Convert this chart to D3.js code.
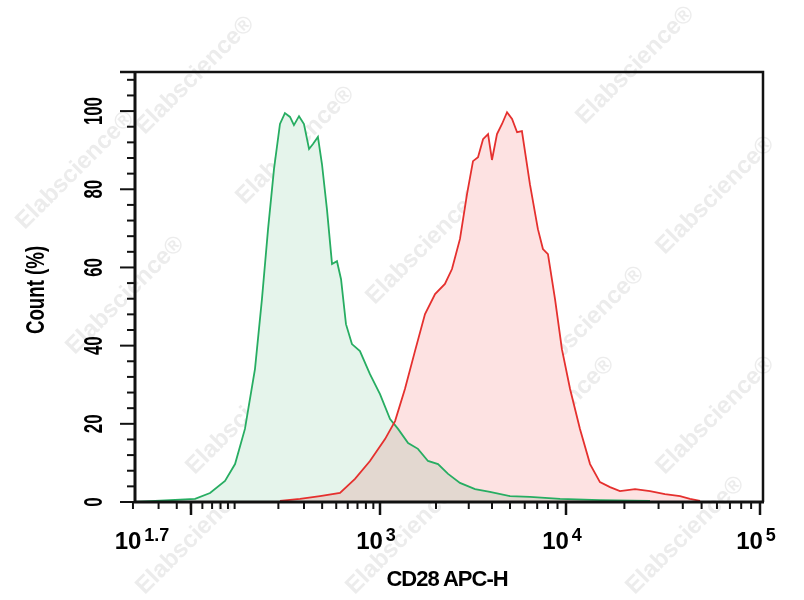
<!DOCTYPE html>
<html>
<head>
<meta charset="utf-8">
<script src="https://cdn.jsdelivr.net/npm/d3@7"></script>
<style>
  body { margin: 0; background: #fff; }
  text { font-family: "Liberation Sans", Arial, sans-serif; font-weight: bold; }
</style>
</head>
<body>
<svg id="chart" width="804" height="600"></svg>
<script>
// x values are log10(fluorescence), y values are Count (%)
const greenX = [1.315, 1.728, 1.831, 1.934, 2.003, 2.071, 2.140, 2.188, 2.230, 2.271, 2.312, 2.346, 2.381, 2.408, 2.443, 2.477, 2.512, 2.539, 2.573, 2.601, 2.635, 2.670, 2.704, 2.732, 2.766, 2.807, 2.862, 2.931, 3.000, 3.054, 3.097, 3.151, 3.204, 3.258, 3.312, 3.366, 3.430, 3.511, 3.591, 3.699, 3.806, 3.968, 4.175, 4.433];
const greenY = [0, 0.8, 2.3, 5.4, 9.7, 18.7, 34.0, 51.9, 69.8, 85.2, 96.7, 99.5, 98.5, 96.4, 98.7, 96.7, 90.3, 91.6, 93.4, 86.4, 74.9, 60.9, 61.6, 57.0, 45.5, 40.4, 38.6, 32.7, 27.6, 21.2, 18.7, 15.1, 13.6, 10.5, 9.7, 7.2, 4.9, 3.3, 2.6, 1.5, 1.3, 0.8, 0.5, 0.3];
const redX = [2.312, 2.450, 2.587, 2.725, 2.828, 2.931, 3.027, 3.081, 3.134, 3.188, 3.242, 3.296, 3.349, 3.387, 3.430, 3.468, 3.500, 3.527, 3.554, 3.581, 3.602, 3.629, 3.656, 3.683, 3.710, 3.737, 3.763, 3.806, 3.849, 3.876, 3.903, 3.941, 3.978, 4.021, 4.072, 4.124, 4.175, 4.227, 4.278, 4.356, 4.433, 4.510, 4.588, 4.639, 4.691];
const redY = [0.3, 0.8, 1.5, 2.3, 5.9, 10.5, 16.1, 20.7, 28.9, 38.6, 48.1, 53.2, 55.8, 59.6, 67.3, 78.8, 87.2, 88.2, 92.8, 94.1, 87.5, 94.1, 96.7, 99.7, 98.0, 94.6, 94.9, 81.3, 69.8, 64.7, 63.4, 51.9, 39.1, 28.9, 18.7, 9.7, 5.1, 3.8, 2.8, 3.3, 2.8, 2.0, 1.5, 0.8, 0.3];
const yTicks = [0, 20, 40, 60, 80, 100];
const xTicks = [1.7, 3, 4, 5];
const xTickSup = ["1.7", "3", "4", "5"];

const svg = d3.select("#chart");
const pLeft = 135, pRight = 763, pTop = 72, pBottom = 502;

// display axis is a biexponential-like transform: piecewise linear in log10
const x = d3.scaleLinear().domain([1.315, 1.7, 3, 4, 5]).range([pLeft, 191, 380, 566, 760]);
const y = d3.scaleLinear().domain([0, 110]).range([pBottom, pTop]);

// watermarks
const marks = [[200, 80], [80, 175], [300, 150], [640, 70], [720, 200], [130, 300], [430, 250], [250, 420], [590, 330], [560, 420], [720, 420], [200, 540], [410, 540], [690, 540]];
svg.append("g").selectAll("text").data(marks).join("text")
  .attr("transform", d => `translate(${d[0]},${d[1]}) rotate(-45)`)
  .attr("text-anchor", "middle")
  .attr("font-size", 24)
  .attr("fill", "#ececec")
  .text("Elabscience®");

const area = d3.area().x(d => x(d[0])).y0(pBottom).y1(d => y(d[1]));
const line = d3.line().x(d => x(d[0])).y(d => y(d[1]));
const green = d3.zip(greenX, greenY);
const red = d3.zip(redX, redY);

const plot = svg.append("g").style("isolation", "isolate");
plot.append("path").datum(green).attr("d", area).attr("fill", "#e5f4eb").style("mix-blend-mode", "multiply");
plot.append("path").datum(red).attr("d", area).attr("fill", "#fde2e2").style("mix-blend-mode", "multiply");
plot.append("path").datum(green).attr("d", line).attr("fill", "none").attr("stroke", "#27ad62").attr("stroke-width", 1.8);
plot.append("path").datum(red).attr("d", line).attr("fill", "none").attr("stroke", "#e5302e").attr("stroke-width", 1.8);

// frame
svg.append("path")
  .attr("d", `M${120},${pTop}H${pRight}V${pBottom}`)
  .attr("fill", "none").attr("stroke", "#111").attr("stroke-width", 2.5);

// y axis
const yMinor = d3.range(0, 109, 4);
svg.append("g").selectAll("line").data(yMinor).join("line")
  .attr("x1", d => yTicks.includes(d) ? pLeft - 15 : pLeft - 8).attr("x2", pLeft)
  .attr("y1", d => y(d)).attr("y2", d => y(d))
  .attr("stroke", "#111").attr("stroke-width", 2);
svg.append("line").attr("x1", pLeft).attr("x2", pLeft).attr("y1", pTop).attr("y2", pBottom + 1)
  .attr("stroke", "#111").attr("stroke-width", 3);
svg.append("g").selectAll("text").data(yTicks).join("text")
  .attr("transform", d => `translate(102,${y(d)}) rotate(-90) scale(0.8,1.25)`)
  .attr("text-anchor", "middle")
  .attr("font-size", 21)
  .text(d => d);
svg.append("text")
  .attr("transform", `translate(44,290) rotate(-90) scale(0.85,1.15)`)
  .attr("text-anchor", "middle").attr("font-size", 22)
  .text("Count (%)");

// x axis
const xMinor = [];
for (let n = 1; n <= 4; n++) for (let k = 1; k <= 9; k++) {
  const v = Math.log10(k * Math.pow(10, n));
  if (v >= 1.3 && v <= 5) xMinor.push(v);
}
svg.append("g").selectAll("line").data(xMinor).join("line")
  .attr("x1", d => x(d)).attr("x2", d => x(d))
  .attr("y1", pBottom).attr("y2", pBottom + 7)
  .attr("stroke", "#111").attr("stroke-width", 2);
svg.append("g").selectAll("line").data(xTicks).join("line")
  .attr("x1", d => x(d)).attr("x2", d => x(d))
  .attr("y1", pBottom).attr("y2", pBottom + 13)
  .attr("stroke", "#111").attr("stroke-width", 2.5);
svg.append("line").attr("x1", pLeft - 1).attr("x2", pRight + 1).attr("y1", pBottom).attr("y2", pBottom)
  .attr("stroke", "#111").attr("stroke-width", 3);

const xl = svg.append("g").selectAll("text").data(xTicks).join("text")
  .attr("x", (d, i) => i === 0 ? 142 : x(d) - 4)
  .attr("y", 549)
  .attr("text-anchor", "middle")
  .attr("font-size", 24);
xl.append("tspan").text("10");
xl.append("tspan").attr("dy", -8).attr("dx", 3).attr("font-size", 18).text((d, i) => xTickSup[i]);

svg.append("text")
  .attr("x", 447).attr("y", 586)
  .attr("text-anchor", "middle").attr("font-size", 22)
  .attr("letter-spacing", -1)
  .text("CD28 APC-H");
</script>
</body>
</html>
